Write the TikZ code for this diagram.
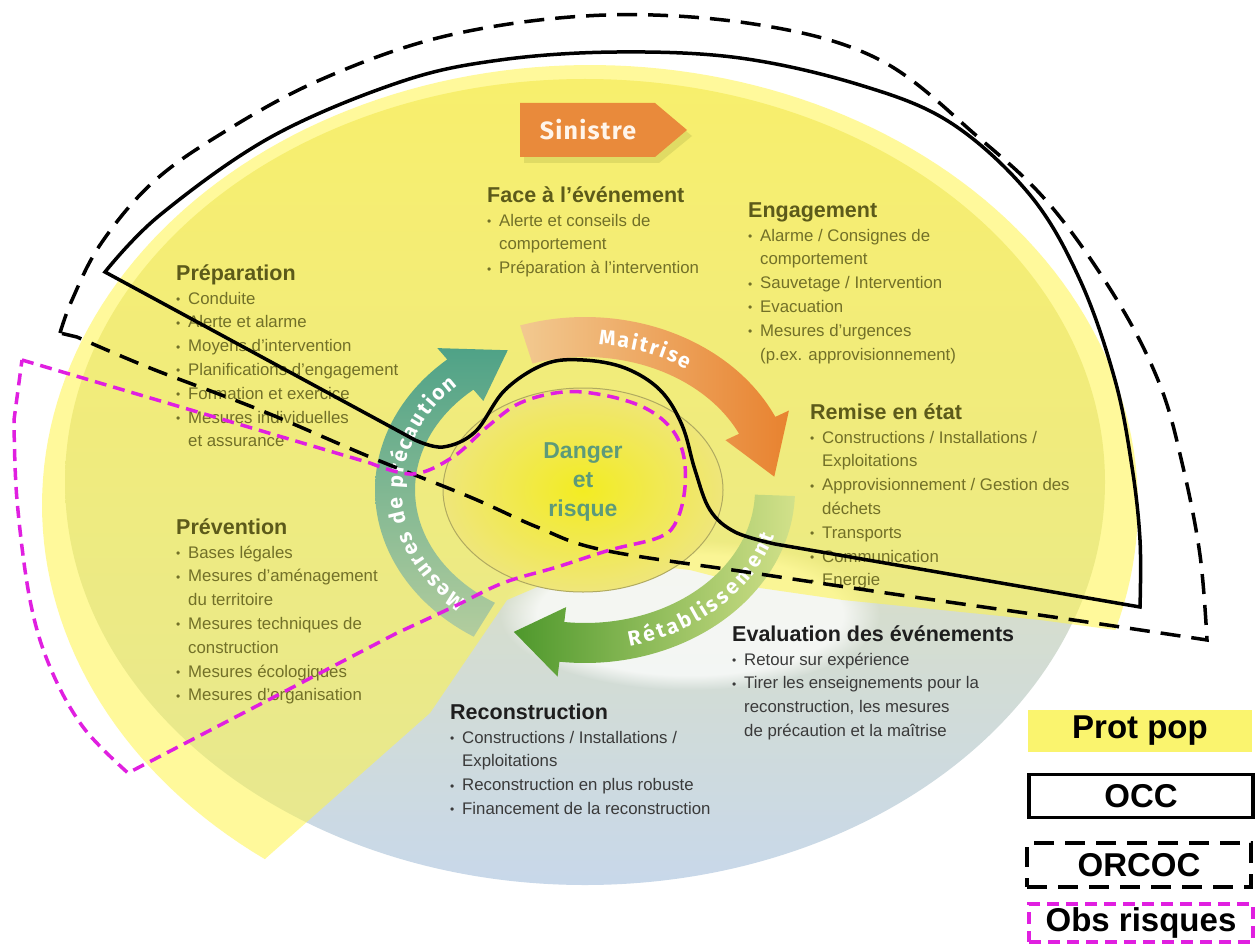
\documentclass[tikz,border=0pt]{standalone}
\usepackage{fontspec}
\setmainfont{Liberation Sans}
\newfontfamily\fira{Fira Sans}
\usetikzlibrary{decorations.text,fadings}
\definecolor{olivehead}{HTML}{5C5A1A}
\definecolor{olivebody}{HTML}{727028}
\definecolor{grayhead}{HTML}{1E1E1E}
\definecolor{graybody}{HTML}{3A3A3A}
\definecolor{protyellow}{HTML}{FFF54A}
\definecolor{legyellow}{HTML}{FAF46E}
\definecolor{sinorange}{HTML}{E98A3B}
\definecolor{sinshadow}{HTML}{B9B84E}
\definecolor{teal1}{HTML}{4FA287}
\definecolor{teal2}{HTML}{B3CD9E}
\definecolor{orange1}{HTML}{F2C990}
\definecolor{orange2}{HTML}{E8822F}
\definecolor{green1}{HTML}{4E982C}
\definecolor{green2}{HTML}{D2E18A}
\definecolor{greenm}{HTML}{78B13E}
\definecolor{dangertxt}{HTML}{5D9A7A}
\definecolor{obsmag}{HTML}{E01FE0}
\definecolor{basetop}{HTML}{F0E898}
\definecolor{basemid}{HTML}{E4E8E4}
\definecolor{basebot}{HTML}{C8D8EA}
\definecolor{cellin}{HTML}{F3EC22}
\definecolor{cellout}{HTML}{EFE67A}
\definecolor{cellline}{HTML}{B0AA60}
\newcommand{\hdf}{\fontsize{21.5}{23.8}\selectfont\bfseries}
\newcommand{\bitem}[1]{\makebox[12pt][l]{\raisebox{0.5pt}{\fontsize{12}{12}\selectfont •}}#1}
\newcommand{\contl}[1]{\hspace*{12pt}#1}
\begin{document}
\begin{tikzpicture}[x=1pt,y=-1pt,
  blk/.style={anchor=north west, inner sep=0pt, align=left, font=\fontsize{16.8}{23.8}\selectfont},
  occline/.style={draw=black, line width=3.5pt},
  orcocline/.style={draw=black, line width=3.5pt, dash pattern=on 20pt off 11pt},
  obsline/.style={draw=obsmag, line width=3.5pt, dash pattern=on 12pt off 7pt},
  legbox/.style={inner sep=0pt, minimum width=224pt, font=\fontsize{33}{33}\selectfont\bfseries, text=black},
  ringtxt/.style={decorate, decoration={text along path, text align=center, raise=-7.5pt, text color=white}}]
\useasboundingbox (0,0) rectangle (1258,944);
\fill[white] (0,0) rectangle (1258,944);
% base ellipse of the cycle
\shade[top color=basetop, middle color=basemid, bottom color=basebot] (585,482) ellipse [x radius=520, y radius=403];
\fill[white, opacity=0.75, path fading=circle with fuzzy edge 20 percent] (690,615) ellipse [x radius=190, y radius=75];
% Prot pop overlay
\fill[protyellow, opacity=0.55] plot[domain=-16.5:233.6, samples=150] ({590+548*cos(\x)},{505-440*sin(\x)}) -- (430,713) -- (507,600) -- (600,560) -- (690,570) -- (760,588) -- (843,600) -- (1040,620) -- cycle;
% Sinistre
\fill[sinshadow, opacity=0.35] (524,109) -- (659,109) -- (692,136) -- (659,163) -- (524,163) -- cycle;
\fill[sinorange] (520,103) -- (655,103) -- (687,130) -- (655,157) -- (520,157) -- cycle;
\node[text=white!92!orange, font=\fira\bfseries\fontsize{25}{25}\selectfont\addfontfeature{LetterSpace=5}] (sinistre) at (588,130) {Sinistre};
% central cell
\shadedraw[inner color=cellin, outer color=cellout, draw=cellline, line width=1pt] (583,490) ellipse [x radius=140, y radius=102];
\node[align=center, anchor=north, inner sep=0pt, text=dangertxt, font=\fontsize{23}{29}\selectfont\bfseries] (danger) at (583,440) {\rule{0pt}{18pt}Danger\\et\\risque};
% ring arrows
\shade[left color=orange1, right color=orange2] plot[domain=108:25, samples=50] ({585+210*cos(\x)},{490-173*sin(\x)}) -- ({585+225*cos(25)},{490-188*sin(25)}) -- ({585+190*cos(5)},{490-153*sin(5)}) -- ({585+155*cos(25)},{490-118*sin(25)}) -- plot[domain=25:108, samples=50] ({585+170*cos(\x)},{490-133*sin(\x)}) -- cycle;
\shade[left color=green1, middle color=greenm, right color=green2] plot[domain=-2:-97, samples=50] ({585+210*cos(\x)},{490-173*sin(\x)}) -- ({585+225*cos(-97)},{490-188*sin(-97)}) -- ({585+190*cos(-112)},{490-153*sin(-112)}) -- ({585+155*cos(-97)},{490-118*sin(-97)}) -- plot[domain=-97:-2, samples=50] ({585+170*cos(\x)},{490-133*sin(\x)}) -- cycle;
\shade[top color=teal1, bottom color=teal2] plot[domain=238:131, samples=50] ({585+210*cos(\x)},{490-173*sin(\x)}) -- ({585+225*cos(131)},{490-188*sin(131)}) -- ({585+190*cos(114)},{490-153*sin(114)}) -- ({585+155*cos(131)},{490-118*sin(131)}) -- plot[domain=131:238, samples=50] ({585+170*cos(\x)},{490-133*sin(\x)}) -- cycle;
\path[ringtxt, decoration={text={|\fira\bfseries\fontsize{21}{21}\selectfont\kern2.5pt|Maitrise}}] plot[domain=112:28, samples=60] ({585+190*cos(\x)},{490-153*sin(\x)});
\path[ringtxt, decoration={text={|\fira\bfseries\fontsize{21}{21}\selectfont\kern2.5pt|Rétablissement}}] plot[domain=-95:5, samples=60] ({585+190*cos(\x)},{490-153*sin(\x)});
\path[ringtxt, decoration={text={|\fira\bfseries\fontsize{21}{21}\selectfont\kern2.5pt|Mesures de précaution}}] plot[domain=252:112, samples=80] ({585+190*cos(\x)},{490-153*sin(\x)});
% text blocks
\node[blk, text=olivebody] (face) at (487,181) {\rule{0pt}{21pt}{\hdf\color{olivehead}Face à l’événement}\\
\bitem{Alerte et conseils de}\\ \contl{comportement}\\ \bitem{Préparation à l’intervention}};
\node[blk, text=olivebody] (engag) at (748,196) {\rule{0pt}{21pt}{\hdf\color{olivehead}Engagement}\\
\bitem{Alarme / Consignes de}\\ \contl{comportement}\\ \bitem{Sauvetage / Intervention}\\ \bitem{Evacuation}\\ \bitem{Mesures d’urgences}\\ \contl{(p.ex. approvisionnement)}};
\node[blk, text=olivebody] (prep) at (176,259) {\rule{0pt}{21pt}{\hdf\color{olivehead}Préparation}\\
\bitem{Conduite}\\ \bitem{Alerte et alarme}\\ \bitem{Moyens d’intervention}\\ \bitem{Planifications d’engagement}\\ \bitem{Formation et exercice}\\ \bitem{Mesures individuelles}\\ \contl{et assurance}};
\node[blk, text=olivebody] (remise) at (810,398) {\rule{0pt}{21pt}{\hdf\color{olivehead}Remise en état}\\
\bitem{Constructions / Installations /}\\ \contl{Exploitations}\\ \bitem{Approvisionnement / Gestion des}\\ \contl{déchets}\\ \bitem{Transports}\\ \bitem{Communication}\\ \bitem{Energie}};
\node[blk, text=olivebody] (prev) at (176,513) {\rule{0pt}{21pt}{\hdf\color{olivehead}Prévention}\\
\bitem{Bases légales}\\ \bitem{Mesures d’aménagement}\\ \contl{du territoire}\\ \bitem{Mesures techniques de}\\ \contl{construction}\\ \bitem{Mesures écologiques}\\ \bitem{Mesures d’organisation}};
\node[blk, text=graybody] (evalu) at (732,620) {\rule{0pt}{21pt}{\hdf\color{grayhead}Evaluation des événements}\\
\bitem{Retour sur expérience}\\ \bitem{Tirer les enseignements pour la}\\ \contl{reconstruction, les mesures}\\ \contl{de précaution et la maîtrise}};
\node[blk, text=graybody] (recon) at (450,698) {\rule{0pt}{21pt}{\hdf\color{grayhead}Reconstruction}\\
\bitem{Constructions / Installations /}\\ \contl{Exploitations}\\ \bitem{Reconstruction en plus robuste}\\ \bitem{Financement de la reconstruction}};
% outlines
\draw[occline] plot[smooth, tension=0.6] coordinates {(105,272) (160,215) (271,137) (400,82) (500,60) (617,52) (740,58) (860,85) (951,123) (1030,195) (1080,280) (1115,380) (1132,467) (1140,540) (1140,607)} -- plot[smooth, tension=0.6] coordinates {(775,544) (735,532) (710,510) (695,470) (682,425) (660,390) (625,368) (583,360) (545,364) (505,390) (475,432) (443,447) (415,440)} -- cycle;
\draw[orcocline] plot[smooth, tension=0.6] coordinates {(60,333) (72,300) (100,245) (150,185) (216,137) (320,80) (450,35) (606,15) (760,25) (880,60) (978,137) (1050,205) (1117,300) (1160,385) (1183,467) (1200,555) (1207,640)} -- plot[smooth, tension=0.6] coordinates {(1207,640) (1060,618) (900,595) (753,573) (603,550) (537,527) (470,497) (370,457) (260,410) (150,368) (77,337)} -- cycle;
\draw[obsline] (22,360) -- plot[smooth, tension=0.6] coordinates {(370,463) (413,474) (453,457) (487,427) (520,403) (563,392) (603,395) (643,407) (670,427) (683,453) (685,487) (677,520) (660,537) (610,550) (557,567) (503,583) (453,607) (397,633)} -- plot[smooth, tension=0.6] coordinates {(128,773) (83,727) (50,667) (30,600) (17,500) (14,420)} -- cycle;
% legend
\node[legbox, fill=legyellow, minimum height=42pt] (lprot) at (1140,731) {Prot pop};
\node[legbox, occline, fill=white, minimum height=43pt] (locc) at (1141,796) {OCC};
\node[legbox, orcocline, minimum height=44pt] (lorcoc) at (1139,865) {ORCOC};
\node[legbox, obsline, minimum height=38pt] (lobs) at (1141,923) {Obs risques};
\end{tikzpicture}
\end{document}
